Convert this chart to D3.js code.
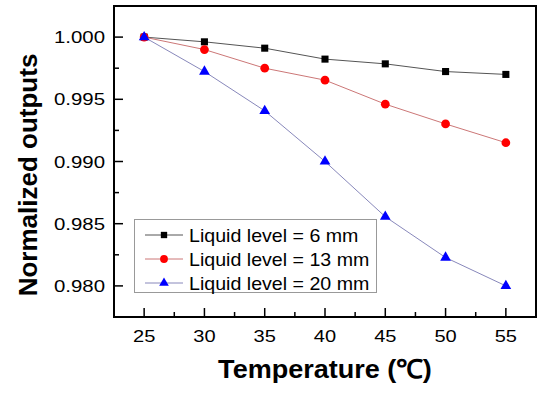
<!DOCTYPE html>
<html><head><meta charset="utf-8">
<script src="https://d3js.org/d3.v7.min.js"></script>
<style>body{margin:0;background:#fff}svg{display:block}</style>
</head><body><svg id="c" width="550" height="396"></svg>
<script>
const temps = [25, 30, 35, 40, 45, 50, 55];
const level6 = [1.0000, 0.99962, 0.99911, 0.99823, 0.99785, 0.99723, 0.99700];
const level13 = [1.0000, 0.99900, 0.99750, 0.99654, 0.99461, 0.99302, 0.99151];
const level20 = [1.0000, 0.99723, 0.99407, 0.99000, 0.98556, 0.98228, 0.98000];
const seriesNames = ["Liquid level = 6 mm", "Liquid level = 13 mm", "Liquid level = 20 mm"];
const xTicks = [25, 30, 35, 40, 45, 50, 55];
const yTicks = [0.980, 0.985, 0.990, 0.995, 1.000];

const svg = d3.select("#c");
const L = 114, R = 536, T = 6, B = 317;
const x = d3.scaleLinear().domain([22.5, 57.5]).range([L, R]);
const y = d3.scaleLinear().domain([0.9775, 1.0025]).range([B, T]);
const font = "Liberation Sans, Arial, sans-serif";

const series = [
  {vals: level6, color: "#000000", line: "#555555", sym: d3.symbolSquare, size: 50},
  {vals: level13, color: "#ff0000", line: "#cc7777", sym: d3.symbolCircle, size: 60},
  {vals: level20, color: "#0000ff", line: "#8888bb", sym: d3.symbolTriangle, size: 50}
];

// axes (ticks inward)
const xMinor = d3.range(22.5, 57.6, 2.5).filter(v => !xTicks.includes(v));
const yMinor = [0.9775,0.9825,0.9875,0.9925,0.9975,1.0025];
const ax = svg.append("g").attr("stroke", "#000");
xTicks.forEach(t => ax.append("line").attr("x1", x(t)).attr("x2", x(t)).attr("y1", B).attr("y2", B - 9).attr("stroke-width", 1.5));
xMinor.forEach(t => ax.append("line").attr("x1", x(t)).attr("x2", x(t)).attr("y1", B).attr("y2", B - 5).attr("stroke-width", 1.5));
yTicks.forEach(t => ax.append("line").attr("y1", y(t)).attr("y2", y(t)).attr("x1", L).attr("x2", L + 9).attr("stroke-width", 1.5));
yMinor.forEach(t => ax.append("line").attr("y1", y(t)).attr("y2", y(t)).attr("x1", L).attr("x2", L + 5).attr("stroke-width", 1.5));
svg.append("rect").attr("x", L).attr("y", T).attr("width", R - L).attr("height", B - T)
  .attr("fill", "none").attr("stroke", "#000").attr("stroke-width", 2);

svg.append("g").selectAll("text").data(xTicks).join("text")
  .attr("transform", d => `translate(${x(d)},${B + 25}) scale(1.18,1)`).attr("text-anchor", "middle")
  .attr("font-family", font).attr("font-size", 17).text(d => d);
svg.append("g").selectAll("text").data(yTicks).join("text")
  .attr("transform", d => `translate(${L - 9},${y(d) + 6}) scale(1.2,1)`).attr("text-anchor", "end")
  .attr("font-family", font).attr("font-size", 17).text(d => d3.format(".3f")(d));

// titles
svg.append("text").attr("transform", "translate(325,378) scale(1.04,1)").attr("text-anchor", "middle")
  .attr("font-family", font).attr("font-size", 26).attr("font-weight", "bold")
  .text("Temperature (℃)");
svg.append("text").attr("transform", "translate(37,175) rotate(-90)").attr("text-anchor", "middle")
  .attr("font-family", font).attr("font-size", 26).attr("font-weight", "bold")
  .text("Normalized outputs");

// series
const line = d3.line().x((d, i) => x(temps[i])).y(d => y(d));
series.forEach(s => {
  svg.append("path").datum(s.vals).attr("d", line).attr("fill", "none")
    .attr("stroke", s.line).attr("stroke-width", 1);
  svg.append("g").selectAll("path").data(s.vals).join("path")
    .attr("transform", (d, i) => `translate(${x(temps[i])},${y(d)})`)
    .attr("d", d3.symbol().type(s.sym).size(s.size)).attr("fill", s.color);
});

// legend
const lg = svg.append("g");
lg.append("rect").attr("x", 134.5).attr("y", 219.5).attr("width", 242).attr("height", 73)
  .attr("fill", "#fff").attr("stroke", "#999").attr("stroke-width", 1);
series.forEach((s, i) => {
  const yy = 235 + i * 24;
  lg.append("line").attr("x1", 145).attr("x2", 183).attr("y1", yy).attr("y2", yy)
    .attr("stroke", s.line).attr("stroke-width", 1);
  lg.append("path").attr("transform", `translate(164,${yy})`)
    .attr("d", d3.symbol().type(s.sym).size(s.size * 0.8)).attr("fill", s.color);
  lg.append("text").attr("transform", `translate(189,${yy + 6.5}) scale(1.09,1)`).attr("font-family", font)
    .attr("font-size", 18).text(seriesNames[i]);
});
</script></body></html>
